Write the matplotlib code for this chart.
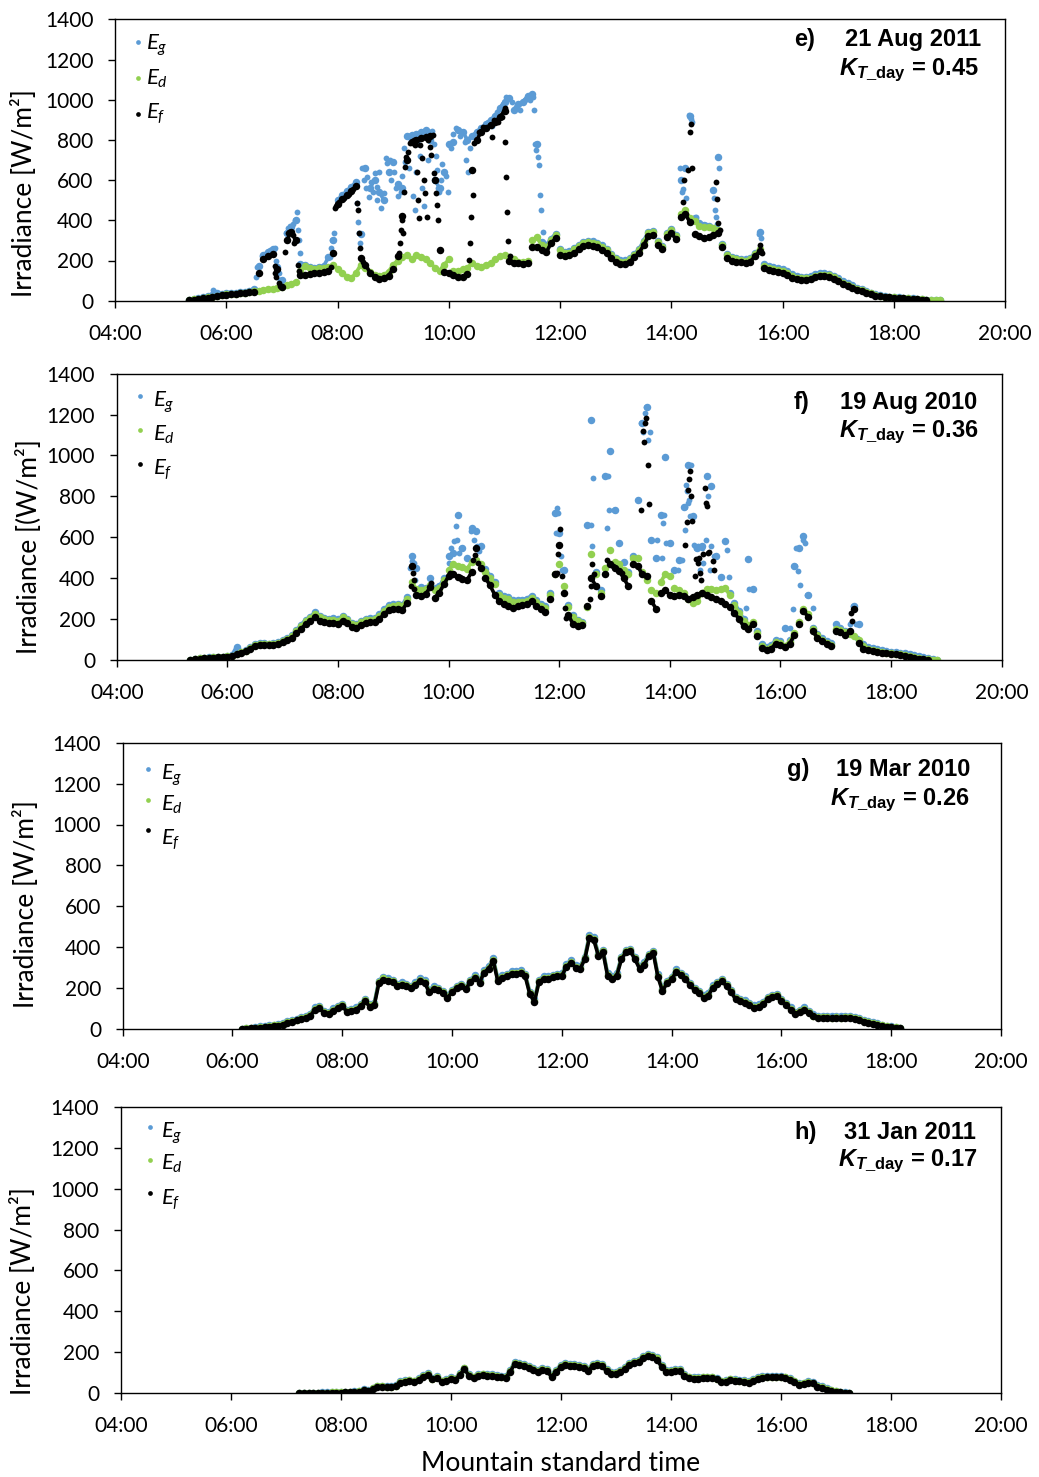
import numpy as np
import matplotlib
matplotlib.use("Agg")
import matplotlib.pyplot as plt
from matplotlib.lines import Line2D

plt.rcParams.update({
    "font.family": ["Lato", "DejaVu Sans"],
    "mathtext.fontset": "custom",
    "mathtext.rm": "Lato",
    "mathtext.it": "Lato:italic",
    "mathtext.bf": "Liberation Sans:bold",
    "mathtext.bfit": "Liberation Sans:italic:bold",
})

# ------------------------------------------------------------------
# Irradiance samples [W/m2]; base series are 5-minute samples that
# start at the given clock time, bursts are extra 1-minute readings.
# ------------------------------------------------------------------

# e) 21 Aug 2011
e_start = "05:20"
e_ed = [3, 6, 9, 12, 16, 20, 24, 28,
        31, 33, 35, 37, 39, 42, 46, 50, 54, 57, 60, 64,
        70, 76, 85, 95, 150, 175, 165, 160, 162, 165, 170, 178,
        160, 140, 120, 112, 140, 178, 165, 145, 130, 125, 128, 145,
        180, 200, 218, 226, 206, 225, 215, 205, 186, 165, 150, 180,
        205, 150, 148, 156, 165, 186, 175, 168, 178, 188, 205, 222,
        225, 215, 205, 195, 192, 200, 300, 315, 275, 265, 300, 325,
        250, 235, 238, 255, 270, 285, 292, 288, 280, 268, 250, 225,
        205, 195, 195, 205, 225, 250, 290, 335, 340, 290, 265, 330,
        350, 320, 430, 450, 410, 395, 370, 365, 365, 360, 350, 275,
        225, 210, 205, 202, 200, 205, 230, 258, 175, 165, 160, 155,
        150, 140, 125, 115, 112, 112, 115, 125, 130, 130, 128, 118,
        105, 90, 80, 70, 60, 52, 44, 36, 28, 24, 20, 18,
        17, 15, 13, 12, 10, 8, 6, 4, 3, 2, 1]
e_ef = [2, 5, 8, 11, 15, 19, 23, 27,
        30, 32, 34, 36, 38, 41, 45, 136, 205, 220, 232, 160,
        68, 300, 340, 300, 130, 128, 132, 138, 140, 142, 150, 236,
        480, 505, 525, 545, 570, 210, 180, 140, 118, 110, 112, 125,
        160, 220, 420, 700, 790, 800, 810, 815, 820, 600, 250, 145,
        140, 130, 118, 120, 135, 650, 800, 840, 860, 875, 890, 915,
        945, 200, 190, 188, 185, 190, 265, 268, 250, 240, 285, 310,
        225, 220, 225, 238, 255, 270, 277, 272, 265, 252, 235, 210,
        192, 185, 185, 195, 215, 238, 275, 320, 325, 275, 255, 315,
        335, 305, 415, 430, 390, 330, 320, 310, 315, 325, 335, 265,
        210, 200, 195, 192, 190, 195, 220, 245, 165, 155, 150, 145,
        140, 130, 115, 108, 105, 105, 108, 118, 122, 122, 120, 110,
        98, 85, 75, 65, 55, 47, 40, 32, 25, 21, 18, 16,
        15, 13, 11, 10, 8, 6, 4, 2]
e_eg = [4, 8, 12, 16, 22, 30, 36, 34,
        36, 38, 40, 42, 45, 50, 60, 175, 225, 240, 255, 170,
        105, 335, 368, 400, 185, 180, 170, 165, 168, 172, 215, 300,
        500, 525, 545, 568, 590, 330, 660, 560, 600, 540, 500, 640,
        690, 580, 560, 820, 825, 830, 840, 850, 800, 600, 560, 640,
        780, 790, 850, 840, 800, 820, 840, 860, 880, 900, 920, 960,
        990, 1010, 950, 980, 990, 1020, 1030, 780, 290, 275, 308, 332,
        258, 242, 245, 262, 278, 292, 298, 295, 287, 275, 257, 232,
        212, 202, 202, 212, 232, 257, 298, 342, 347, 298, 272, 337,
        357, 328, 600, 658, 920, 410, 385, 376, 370, 550, 716, 283,
        232, 217, 212, 209, 207, 212, 237, 343, 182, 172, 167, 162,
        157, 147, 132, 122, 119, 119, 122, 132, 137, 137, 135, 125,
        112, 96, 86, 76, 65, 56, 48, 39, 31, 26, 22, 20,
        18, 16, 14, 13, 11, 9, 7, 5, 3, 2, 1]
e_ef_burst_t = ["06:52", "06:53", "06:54", "06:57", "06:58",
                "07:03", "07:07", "07:08", "07:12", "07:13", "07:17", "07:18",
                "07:53", "07:57", "07:58", "08:01", "08:07", "08:12", "08:17",
                "08:21", "08:22", "08:23", "08:24", "08:27",
                "09:06", "09:07", "09:08", "09:09", "09:11", "09:12", "09:13",
                "09:14", "09:16", "09:18", "09:22", "09:24", "09:26", "09:27",
                "09:28", "09:29", "09:31", "09:33", "09:34", "09:36", "09:38",
                "09:40", "09:41", "09:43", "09:44", "09:46", "09:47", "09:48",
                "09:50", "10:22", "10:23", "10:24", "10:26", "10:27", "10:32",
                "10:37", "10:44", "10:47", "10:49", "10:53", "10:57", "11:00",
                "11:01", "11:02", "11:03", "11:04", "11:06",
                "14:12", "14:14", "14:18", "14:20", "14:21", "14:22",
                "14:48", "14:49", "14:50", "14:52", "15:36", "15:38"]
e_ef_burst_v = [175, 140, 118, 90, 75,
                240, 335, 343, 327, 285, 178, 150,
                170, 460, 470, 490, 510, 530, 555,
                485, 450, 335, 260, 195,
                235, 285, 350, 402, 335, 540, 667,
                717, 742, 783, 800, 775, 642, 501,
                410, 775, 709, 601, 535, 418, 800,
                767, 725, 825, 634, 534, 476, 402,
                252, 202, 289, 418, 526, 783, 841,
                866, 875, 816, 900, 891, 916, 958,
                790, 616, 442, 298, 222,
                492, 600, 650, 840, 881, 660,
                591, 504, 388, 351, 277, 235]
e_eg_burst_t = ["05:46", "05:48", "06:32", "06:33", "06:38", "06:42", "06:47",
                "06:52", "06:54", "06:57", "06:58",
                "07:04", "07:07", "07:09", "07:12", "07:14", "07:16", "07:17",
                "07:18", "07:19", "07:52", "07:53", "07:54", "07:56",
                "08:21", "08:22", "08:23", "08:24", "08:26", "08:28", "08:31",
                "08:32", "08:34", "08:36", "08:38", "08:40", "08:42", "08:43",
                "08:45", "08:47", "08:50", "08:52", "08:53", "08:56", "08:58",
                "09:01", "09:03", "09:05", "09:08", "09:10", "09:12", "09:13",
                "09:17", "09:19", "09:21", "09:23", "09:25", "09:27", "09:29",
                "09:31", "09:33", "09:36", "09:38", "09:40", "09:42", "09:44",
                "09:46", "09:47", "09:48", "09:49", "09:52", "09:53", "09:57",
                "09:59", "10:02", "10:04", "10:08", "10:12", "10:17", "10:19",
                "10:21", "10:23", "10:42", "10:46", "10:52", "10:58", "11:02",
                "11:08", "11:12", "11:17", "11:22", "11:27", "11:31", "11:32",
                "11:33", "11:34", "11:36", "11:37", "11:38", "11:39", "11:41",
                "14:09", "14:11", "14:13", "14:16", "14:19", "14:21", "14:22",
                "14:27", "14:32", "14:37", "14:42", "14:46", "14:47", "14:48",
                "14:49", "14:51", "15:34", "15:37"]
e_eg_burst_v = [53, 45, 120, 170, 220, 230, 250,
                262, 200, 140, 103,
                335, 360, 370, 382, 402, 443, 352,
                300, 235, 219, 260, 302, 335,
                485, 393, 335, 285, 659, 601, 559,
                617, 518, 592, 543, 634, 501, 567,
                642, 460, 534, 708, 684, 700, 600,
                640, 560, 520, 540, 620, 760, 690,
                660, 800, 520, 450, 640, 780, 720,
                560, 470, 820, 700, 840, 845, 780,
                720, 650, 560, 540, 600, 680, 620,
                540, 760, 830, 860, 820, 790, 700,
                640, 760, 890, 870, 940, 980, 1014,
                989, 964, 948, 997, 1000, 1014, 948,
                782, 749, 716, 674, 525, 451, 343,
                658, 543, 558, 509, 922, 906, 890,
                418, 384, 376, 368, 509, 451, 418,
                384, 660, 330, 310]

# f) 19 Aug 2010
f_start = "05:20"
f_ed = [1, 4, 8, 10, 12, 14, 15, 16,
        18, 22, 30, 38, 45, 60, 75, 78, 78, 77, 78, 85,
        95, 105, 115, 140, 165, 190, 205, 225, 208, 200, 195, 198,
        192, 208, 195, 175, 170, 185, 195, 198, 200, 215, 240, 260,
        265, 268, 262, 300, 380, 345, 340, 345, 365, 340, 350, 390,
        440, 470, 460, 455, 445, 480, 490, 470, 430, 400, 370, 320,
        305, 300, 285, 282, 285, 290, 305, 285, 265, 255, 320, 420,
        470, 360, 260, 210, 190, 180, 260, 520, 420, 330, 450, 540,
        480, 470, 440, 420, 500, 500, 430, 390, 340, 330, 380, 420,
        410, 350, 340, 330, 300, 280, 290, 330, 345, 345, 340, 345,
        350, 320, 270, 230, 190, 170, 185, 130, 70, 55, 65, 90,
        85, 70, 90, 130, 185, 250, 225, 150, 120, 100, 85, 75,
        150, 148, 135, 125, 115, 100, 70, 55, 50, 45, 40, 35,
        33, 30, 27, 24, 20, 15, 10, 6, 4, 2, 1]
f_ef = [0, 3, 6, 8, 10, 12, 13, 14,
        16, 20, 27, 35, 42, 56, 70, 73, 73, 72, 73, 80,
        88, 98, 108, 130, 152, 175, 190, 208, 192, 185, 180, 183,
        178, 192, 180, 162, 158, 172, 182, 185, 186, 200, 225, 243,
        248, 250, 245, 280, 462, 320, 315, 322, 355, 305, 330, 370,
        410, 420, 405, 395, 390, 430, 548, 450, 400, 365, 320, 288,
        275, 265, 255, 262, 268, 272, 290, 265, 250, 235, 300, 420,
        560, 330, 220, 175, 168, 170, 263, 400, 360, 312, 420, 470,
        450, 435, 400, 361, 470, 460, 420, 410, 290, 250, 330, 340,
        320, 312, 320, 315, 300, 310, 320, 328, 320, 310, 300, 290,
        275, 260, 231, 200, 165, 150, 175, 115, 60, 48, 56, 80,
        75, 62, 80, 120, 175, 240, 210, 140, 110, 92, 78, 68,
        140, 135, 120, 140, 250, 85, 55, 48, 45, 40, 35, 32,
        30, 27, 24, 20, 16, 11, 7, 4, 2]
f_eg = [1, 5, 9, 11, 13, 15, 16, 17,
        20, 24, 65, 40, 48, 63, 78, 81, 81, 80, 81, 88,
        99, 109, 120, 146, 172, 197, 212, 233, 215, 207, 202, 205,
        199, 215, 202, 182, 177, 192, 202, 205, 207, 223, 248, 268,
        273, 276, 270, 310, 507, 450, 355, 352, 401, 350, 360, 400,
        507, 523, 711, 548, 499, 646, 629, 556, 445, 410, 380, 330,
        315, 310, 295, 292, 295, 300, 315, 295, 275, 265, 330, 720,
        621, 442, 270, 220, 198, 188, 659, 1174, 430, 340, 901, 1020,
        735, 572, 480, 430, 510, 784, 1158, 1239, 589, 499, 711, 992,
        572, 442, 491, 746, 954, 702, 548, 556, 898, 849, 507, 405,
        580, 330, 280, 240, 200, 496, 345, 140, 78, 63, 73, 98,
        93, 158, 98, 462, 548, 605, 320, 158, 128, 108, 93, 83,
        174, 156, 143, 133, 263, 174, 78, 63, 58, 53, 48, 43,
        41, 38, 35, 32, 28, 23, 18, 14, 10, 6, 2]
f_ef_burst_t = ["09:19", "09:21", "09:22", "09:23", "09:41", "10:02", "10:12",
                "10:27", "10:29", "10:32", "11:58", "11:59", "12:01", "12:03",
                "12:06", "12:07", "12:33", "12:34", "12:36", "12:38", "12:52",
                "12:58", "13:08", "13:29", "13:31", "13:32", "13:33", "13:34",
                "13:36", "13:37", "14:17", "14:19", "14:20", "14:21", "14:22",
                "14:23", "14:24", "14:27", "14:28", "14:31", "14:32", "14:33",
                "14:34", "14:35", "14:36", "14:38", "14:39", "14:40", "14:41",
                "14:42", "14:47", "14:48", "17:17", "17:18"]
f_ef_burst_v = [361, 426, 393, 345, 377, 426, 406,
                491, 515, 475, 426, 520, 640, 410,
                255, 206, 300, 360, 467, 420, 491,
                458, 426, 735, 1122, 1068, 1160, 1182,
                954, 764, 564, 673, 829, 886, 922,
                800, 678, 410, 494, 475, 499, 426,
                393, 328, 520, 841, 768, 751, 524,
                527, 483, 439, 231, 190]
f_eg_burst_t = ["09:18", "09:20", "09:22", "09:24", "10:01", "10:03", "10:06",
                "10:08", "10:09", "10:11", "10:13", "10:24", "10:28", "10:31",
                "10:33", "11:57", "11:58", "11:59", "12:02", "12:03", "12:35",
                "12:36", "12:37", "12:52", "12:53", "12:54", "12:59", "13:26",
                "13:29", "13:31", "13:33", "13:34", "13:36", "13:38", "13:46",
                "13:52", "13:53", "13:54", "13:56", "14:09", "14:13", "14:16",
                "14:17", "14:18", "14:19", "14:20", "14:21", "14:22", "14:23",
                "14:25", "14:26", "14:28", "14:31", "14:33", "14:35", "14:36",
                "14:39", "14:41", "14:44", "14:45", "14:48", "15:02", "15:04",
                "15:23", "15:26", "16:10", "16:14", "16:16", "16:17", "16:19",
                "16:21", "16:24", "16:25", "16:27", "16:29", "16:35", "17:15",
                "17:19", "17:22", "17:23"]
f_eg_burst_v = [450, 483, 475, 393, 475, 548, 580,
                654, 589, 523, 548, 629, 589, 556,
                532, 621, 743, 719, 507, 442, 659,
                556, 889, 646, 901, 735, 735, 784,
                1158, 1117, 1207, 1239, 1076, 1117, 589,
                499, 670, 711, 572, 442, 491, 746,
                637, 857, 825, 768, 784, 702, 954,
                702, 564, 548, 556, 442, 548, 475,
                589, 803, 442, 556, 507, 537, 405,
                255, 345, 158, 247, 462, 548, 434,
                369, 605, 589, 572, 320, 255, 174,
                263, 174, 109]

# g) 19 Mar 2010
g_start = "06:10"
g_ed = [1, 3, 5, 7, 10, 12, 15, 18, 20, 25,
        33, 40, 46, 52, 57, 68, 100, 108, 82, 78, 95, 108,
        118, 88, 92, 100, 118, 140, 115, 122, 230, 248, 240, 235,
        215, 222, 215, 205, 222, 242, 232, 185, 202, 195, 180, 158,
        185, 205, 215, 200, 235, 255, 232, 280, 300, 338, 240, 255,
        262, 275, 275, 280, 262, 175, 138, 235, 250, 250, 258, 262,
        265, 310, 330, 305, 300, 345, 450, 440, 362, 380, 265, 250,
        265, 345, 380, 385, 345, 300, 320, 360, 375, 260, 190, 230,
        248, 285, 268, 250, 220, 195, 180, 158, 168, 207, 225, 238,
        215, 185, 150, 140, 133, 122, 110, 113, 125, 150, 160, 166,
        140, 122, 100, 78, 88, 100, 82, 66, 60, 57, 57, 56,
        57, 56, 57, 60, 55, 47, 40, 33, 28, 23, 18, 14,
        11, 8, 5]
g_ef = [0, 1, 3, 5, 7, 9, 12, 15, 17, 21,
        29, 36, 42, 48, 53, 63, 95, 103, 78, 74, 90, 103,
        113, 84, 88, 95, 113, 135, 110, 117, 224, 242, 235, 230,
        210, 217, 210, 200, 217, 237, 227, 180, 197, 190, 175, 153,
        180, 200, 210, 195, 230, 250, 227, 275, 295, 332, 235, 250,
        257, 270, 270, 275, 257, 170, 133, 230, 245, 245, 253, 257,
        260, 305, 325, 300, 295, 340, 444, 434, 357, 375, 260, 245,
        260, 340, 375, 380, 340, 295, 315, 355, 370, 255, 185, 225,
        243, 280, 263, 245, 215, 190, 175, 153, 163, 202, 220, 233,
        210, 180, 145, 135, 128, 117, 105, 108, 120, 145, 155, 161,
        135, 117, 95, 74, 84, 95, 78, 62, 56, 53, 53, 52,
        53, 52, 53, 56, 51, 43, 36, 30, 25, 20, 15, 11,
        8, 5, 3]
g_eg = [2, 4, 7, 9, 13, 15, 18, 22, 24, 29,
        38, 45, 51, 57, 62, 74, 106, 114, 88, 84, 101, 114,
        124, 94, 98, 106, 124, 146, 121, 128, 237, 255, 247, 242,
        222, 229, 222, 212, 229, 249, 239, 192, 209, 202, 187, 165,
        192, 212, 222, 207, 242, 262, 239, 287, 307, 345, 247, 262,
        269, 282, 282, 287, 269, 182, 145, 242, 257, 257, 265, 269,
        272, 317, 337, 312, 307, 352, 458, 448, 369, 387, 272, 257,
        272, 352, 387, 392, 352, 307, 327, 367, 382, 267, 197, 237,
        255, 292, 275, 257, 227, 202, 187, 165, 175, 214, 232, 245,
        222, 192, 157, 147, 140, 129, 117, 120, 132, 157, 167, 173,
        147, 129, 107, 84, 94, 107, 88, 72, 66, 63, 63, 62,
        63, 62, 63, 66, 61, 52, 45, 38, 33, 27, 22, 17,
        13, 10, 7]

# h) 31 Jan 2011
h_start = "07:15"
h_ed = [0, 1, 1, 2, 2, 3, 3, 4, 4,
        4, 5, 6, 8, 10, 16, 13, 24, 35, 34, 32, 33,
        38, 55, 60, 63, 58, 70, 85, 93, 72, 80, 58, 66,
        75, 68, 95, 122, 90, 78, 88, 92, 88, 90, 86, 82,
        80, 110, 150, 145, 138, 128, 120, 110, 118, 112, 86, 110,
        132, 142, 140, 140, 135, 128, 116, 138, 145, 140, 112, 100,
        98, 108, 125, 145, 152, 160, 176, 188, 184, 170, 135, 110,
        108, 115, 112, 90, 78, 74, 76, 78, 78, 78, 72, 58,
        60, 68, 66, 62, 60, 55, 65, 76, 80, 82, 82, 82,
        82, 78, 70, 58, 46, 48, 54, 52, 36, 30, 20, 14,
        9, 6, 3, 1]
h_ef = [0, 0, 1, 1, 1, 2, 2, 3, 3,
        3, 4, 5, 6, 8, 14, 11, 21, 32, 31, 29, 30,
        35, 51, 56, 59, 54, 66, 81, 89, 68, 76, 54, 62,
        71, 64, 91, 117, 86, 74, 84, 88, 84, 86, 82, 78,
        76, 106, 145, 140, 133, 123, 115, 105, 113, 107, 82, 105,
        127, 137, 135, 135, 130, 123, 111, 133, 140, 135, 107, 95,
        93, 103, 120, 140, 147, 155, 171, 183, 179, 165, 130, 105,
        103, 110, 107, 86, 74, 70, 72, 74, 74, 74, 68, 54,
        56, 64, 62, 58, 56, 51, 61, 72, 76, 78, 78, 78,
        78, 74, 66, 54, 42, 44, 50, 48, 32, 26, 17, 11,
        7, 4, 2, 0]
h_eg = [0, 1, 2, 3, 3, 4, 4, 5, 5,
        5, 6, 7, 10, 12, 19, 16, 27, 38, 37, 35, 36,
        42, 59, 64, 67, 62, 74, 89, 97, 76, 84, 62, 70,
        79, 72, 99, 126, 94, 82, 92, 96, 92, 94, 90, 86,
        84, 114, 155, 150, 143, 133, 125, 115, 123, 117, 90, 115,
        137, 147, 145, 145, 140, 133, 121, 143, 150, 145, 117, 105,
        103, 113, 130, 150, 157, 165, 181, 193, 189, 175, 140, 115,
        113, 120, 117, 94, 82, 78, 80, 82, 82, 82, 76, 62,
        64, 72, 70, 66, 64, 59, 69, 80, 84, 86, 86, 86,
        86, 82, 74, 62, 50, 52, 58, 56, 40, 34, 24, 17,
        12, 8, 4, 2]

panel_letters = ["e)", "f)", "g)", "h)"]
panel_dates = ["21 Aug 2011", "19 Aug 2010", "19 Mar 2010", "31 Jan 2011"]
panel_kt = ["0.45", "0.36", "0.26", "0.17"]
panel_ylabels = ["Irradiance [W/m²]", "Irradiance [(W/m²]",
                 "Irradiance [W/m²]", "Irradiance [W/m²]"]
hour_ticks = [4, 6, 8, 10, 12, 14, 16, 18, 20]
hour_labels = ["04:00", "06:00", "08:00", "10:00", "12:00",
               "14:00", "16:00", "18:00", "20:00"]
irr_ticks = [0, 200, 400, 600, 800, 1000, 1200, 1400]
series_names = [r"$E_g$", r"$E_d$", r"$E_f$"]

BLUE = "#5B9BD5"
GREEN = "#92D050"
BLACK = "#000000"
DOT_BASE = 5.4    # 5-minute samples
DOT_BURST = 4.2   # isolated 1-minute readings
TRACE_LW = 2.6    # thin trace joining neighbouring 5-minute samples
# W/m2 step above which neighbouring samples stay unjoined, per panel
JUMP = [45, 45, 130, 130]

W, H = 1039, 1477


def hours(hhmm):
    h, m = hhmm.split(":")
    return int(h) + int(m) / 60.0


def five_minute_axis(start, values):
    return hours(start) + np.arange(len(values)) * 5.0 / 60.0


def fx(px):
    return px / W


def fy(py):
    return 1.0 - py / H


def dots(ax, t, v, color, size):
    ax.plot(t, v, ls="none", marker="o", ms=size, mew=0, color=color)


def trace(ax, start, values, color, jump):
    """Dots at each 5-minute sample, joined only across small steps."""
    t = five_minute_axis(start, values)
    v = np.asarray(values, dtype=float)
    cut = np.where(np.abs(np.diff(v)) > jump)[0] + 1
    ax.plot(np.insert(t, cut, np.nan), np.insert(v, cut, np.nan),
            color=color, lw=TRACE_LW, solid_capstyle="round",
            solid_joinstyle="round")
    dots(ax, t, v, color, DOT_BASE)


fig = plt.figure(figsize=(W / 100, H / 100), dpi=100)

# axes boxes in pixels: left, top, right, bottom
boxes = [(115.0, 19.3, 1005.3, 300.7),
         (116.7, 373.7, 1001.7, 660.0),
         (122.7, 742.7, 1001.0, 1029.0),
         (120.7, 1106.7, 1000.7, 1393.3)]

data = [
    (e_start, e_ed, e_ef, e_eg, e_ef_burst_t, e_ef_burst_v, e_eg_burst_t, e_eg_burst_v),
    (f_start, f_ed, f_ef, f_eg, f_ef_burst_t, f_ef_burst_v, f_eg_burst_t, f_eg_burst_v),
    (g_start, g_ed, g_ef, g_eg, [], [], [], []),
    (h_start, h_ed, h_ef, h_eg, [], [], [], []),
]

# title block positions (pixels): letter x, date right x, date baseline, KT right x, KT baseline
title_pos = [(793.7, 981.0, 46.0, 979.0, 75.0),
             (793.7, 977.5, 409.3, 978.6, 437.3),
             (786.8, 970.6, 776.0, 970.0, 805.0),
             (794.4, 976.0, 1139.0, 977.5, 1166.7)]

# key positions (pixels): marker x, text x, marker ys, text baselines
key_pos = [(137.5, 146.0, (41.7, 78.0, 114.0), (50.0, 85.0, 118.5)),
           (140.3, 152.7, (396.0, 430.0, 464.3), (406.7, 441.0, 475.0)),
           (147.7, 161.0, (769.3, 800.0, 830.0), (780.0, 811.0, 845.0)),
           (150.3, 161.0, (1127.3, 1160.0, 1192.7), (1137.3, 1170.0, 1205.0))]

ylabel_pos = [(24.0, 193.0), (29.0, 546.5), (26.0, 904.0), (23.0, 1291.5)]

for i, (box, d) in enumerate(zip(boxes, data)):
    l, t, r, b = box
    ax = fig.add_axes([fx(l), fy(b), (r - l) / W, (b - t) / H])
    start, ed, ef, eg, eft, efv, egt, egv = d

    # global first, diffuse over it, forecast on top
    trace(ax, start, eg, BLUE, JUMP[i])
    dots(ax, [hours(s) for s in egt], egv, BLUE, DOT_BURST)
    trace(ax, start, ed, GREEN, JUMP[i])
    trace(ax, start, ef, BLACK, JUMP[i])
    dots(ax, [hours(s) for s in eft], efv, BLACK, DOT_BURST)

    ax.set_xlim(4, 20)
    ax.set_ylim(0, 1400)
    ax.set_xticks(hour_ticks)
    ax.set_xticklabels(hour_labels)
    ax.set_yticks(irr_ticks)
    ax.tick_params(axis="both", direction="out", length=5, width=1.0,
                   labelsize=15, colors="black")
    ax.tick_params(axis="x", pad=11.5)
    ax.tick_params(axis="y", pad=10.5)
    for sp in ax.spines.values():
        sp.set_linewidth(1.0)
        sp.set_color("black")

    # series key
    mx, tx, mys, tys = key_pos[i]
    for name, col, my, ty in zip(series_names, (BLUE, GREEN, BLACK), mys, tys):
        fig.add_artist(Line2D([fx(mx)], [fy(my)], ls="none", marker="o",
                              ms=3.4, mew=0, color=col,
                              transform=fig.transFigure))
        fig.text(fx(tx), fy(ty), name, fontsize=16, va="baseline", ha="left")

    # panel title and daily clearness index
    lx, dr, db, kr, kb = title_pos[i]
    fig.text(fx(lx), fy(db), panel_letters[i], fontsize=17,
             family="Liberation Sans", weight="bold", va="baseline", ha="left")
    fig.text(fx(dr), fy(db), panel_dates[i], fontsize=17,
             family="Liberation Sans", weight="bold", va="baseline", ha="right")
    fig.text(fx(kr), fy(kb),
             r"$\mathbfit{K}_{\mathbfit{T}\mathbf{\_day}}$" + " = " + panel_kt[i],
             fontsize=17, family="Liberation Sans", weight="bold",
             va="baseline", ha="right")

    yx, yy = ylabel_pos[i]
    fig.text(fx(yx), fy(yy), panel_ylabels[i], rotation=90, fontsize=19,
             ha="center", va="center")

fig.text(fx(560.5), fy(1471.0), "Mountain standard time", fontsize=19,
         ha="center", va="baseline")

fig.savefig("out.png", dpi=100)
